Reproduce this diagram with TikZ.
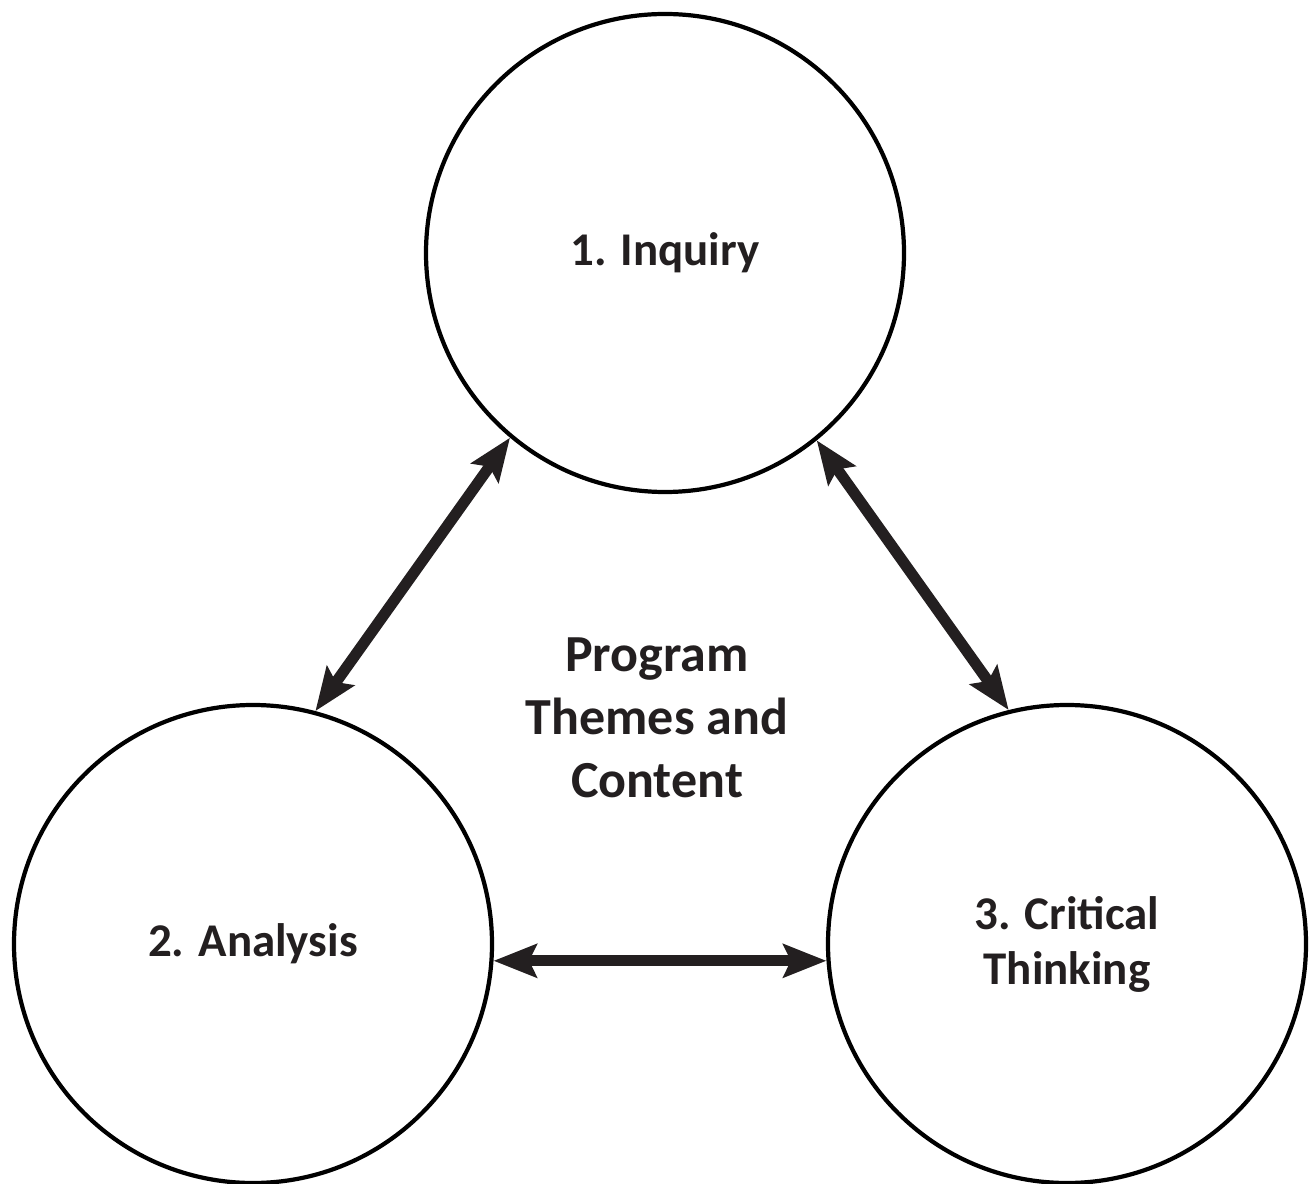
\documentclass[tikz,border=0pt]{standalone}
\usepackage{fontspec}
\setmainfont{Carlito}
\usetikzlibrary{arrows.meta}
\definecolor{arrowgray}{HTML}{231F20}

\begin{document}
\begin{tikzpicture}
	\tikzstyle{hub} = [draw=black, shape=circle, line width=2.4pt, minimum size=9.56cm,
			inner sep=0, align=center, text=arrowgray, font=\bfseries\fontsize{26.7}{31.3}\selectfont]
	\tikzstyle{twoway} = [{Stealth[length=0.86cm, width=0.66cm, inset=0.15cm]}-{Stealth[length=0.86cm, width=0.66cm, inset=0.15cm]},
			line width=6.3pt, draw=arrowgray]
	\tikzstyle{theme} = [align=center, font=\bfseries\fontsize{29.6}{35.9}\selectfont, text=arrowgray]

	\useasboundingbox (0,0) rectangle (26.18,23.66);

	\node [hub] (inquiry) at (13.3,18.6) {1. Inquiry};
	\node [hub] (analysis) at (5.06,4.78) {2. Analysis};
	\node [hub] (critical) at (21.34,4.78) {3. Critical\\Thinking};
	\node [theme] (themes) at (13.14,9.3) {Program\\Themes and\\Content};

	\draw [twoway] (analysis.75) -- (inquiry.230);
	\draw [twoway] (inquiry.309) -- (critical.104);
	\draw [twoway] (analysis.356) -- (critical.184);
\end{tikzpicture}
\end{document}
